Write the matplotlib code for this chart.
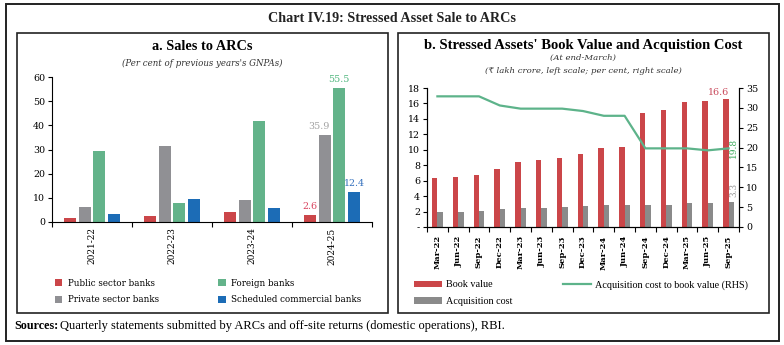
import numpy as np
import matplotlib
matplotlib.use("Agg")
import matplotlib.pyplot as plt
from matplotlib.patches import Rectangle

matplotlib.rcParams.update({
    "font.family": ["DejaVu Serif", "DejaVu Sans"],
    "axes.linewidth": 0.8,
    "xtick.major.width": 0.8,
    "ytick.major.width": 0.8,
})

# ── data ──────────────────────────────────────────────────────────────────────
years = ["2021-22", "2022-23", "2023-24", "2024-25"]
public_sector = [1.7, 2.5, 4.1, 2.6]
private_sector = [6.3, 31.4, 9.1, 35.9]
foreign_banks = [29.3, 7.7, 41.9, 55.5]
scb = [3.1, 9.6, 5.8, 12.4]

quarters = ["Mar-22", "Jun-22", "Sep-22", "Dec-22", "Mar-23", "Jun-23", "Sep-23",
            "Dec-23", "Mar-24", "Jun-24", "Sep-24", "Dec-24", "Mar-25", "Jun-25", "Sep-25"]
book_value = [6.3, 6.5, 6.7, 7.5, 8.4, 8.7, 9.0, 9.5, 10.2, 10.4, 14.7, 15.1, 16.2, 16.3, 16.6]
acq_cost = [2.0, 2.0, 2.1, 2.3, 2.4, 2.5, 2.6, 2.7, 2.8, 2.8, 2.8, 2.9, 3.1, 3.1, 3.3]
acq_ratio = [32.9, 32.9, 32.9, 30.6, 29.8, 29.8, 29.8, 29.2, 28.0, 28.0, 19.8, 19.8, 19.8, 19.3, 19.8]

W, H = 784, 345
fig = plt.figure(figsize=(W / 100, H / 100), dpi=100)


def px_axes(x0, y0, x1, y1):
    """axes from pixel box (top-left origin)"""
    return fig.add_axes([x0 / W, 1 - y1 / H, (x1 - x0) / W, (y1 - y0) / H])


def px_rect(x0, y0, x1, y1, lw=1.2):
    fig.patches.append(Rectangle((x0 / W, 1 - y1 / H), (x1 - x0) / W, (y1 - y0) / H,
                                 transform=fig.transFigure, fill=False,
                                 ec="#222222", lw=lw))


# frames
px_rect(6, 4, 779, 341, lw=1.4)
px_rect(17, 33, 388, 313)
px_rect(398, 33, 769, 313)

fig.text(392 / W, 1 - 19 / H, "Chart IV.19: Stressed Asset Sale to ARCs",
         family="Liberation Serif", fontweight="bold", fontsize=10.2,
         ha="center", va="center", color="#222222")
fig.text(14 / W, 1 - 326 / H, "Sources:", family="Liberation Serif",
         fontweight="bold", fontsize=8.7, ha="left", va="center")
fig.text(60 / W, 1 - 326 / H,
         "Quarterly statements submitted by ARCs and off-site returns (domestic operations), RBI.",
         family="Liberation Serif", fontsize=9, ha="left", va="center")

C_RED, C_GREY, C_GREEN, C_BLUE = "#CB4649", "#909094", "#63B38A", "#1C6CB6"

# ── panel (a) ─────────────────────────────────────────────────────────────────
ax = px_axes(52, 77.3, 372, 221.7)
fig.text(202 / W, 1 - 47 / H, "a. Sales to ARCs", family="Liberation Serif",
         fontweight="bold", fontsize=10.3, ha="center", va="center")
fig.text(202 / W, 1 - 63 / H, "(Per cent of previous years's GNPAs)",
         style="italic", fontsize=6.2, ha="center", va="center", color="#333333")

x = np.arange(len(years))
pitch, bw = 0.183, 0.15
series_a = [(public_sector, C_RED, "Public sector banks"),
            (private_sector, C_GREY, "Private sector banks"),
            (foreign_banks, C_GREEN, "Foreign banks"),
            (scb, C_BLUE, "Scheduled commercial banks")]
bars_a = []
for k, (vals, col, lbl) in enumerate(series_a):
    b = ax.bar(x + (k - 1.5) * pitch, vals, bw, color=col, label=lbl)
    bars_a.append(b)

lab_cols = ["#D9435E", "#A2A2A2", "#4DB57C", "#3470BD"]
for k, (vals, col, lbl) in enumerate(series_a):
    xi = x[-1] + (k - 1.5) * pitch
    dx = -4 if k == 1 else 0
    ax.annotate(f"{vals[-1]:.1f}", (xi, vals[-1]), xytext=(dx, 3),
                textcoords="offset points", ha="center", va="bottom",
                fontsize=6.8, color=lab_cols[k], annotation_clip=False)

ax.set_xlim(-0.5, len(years) - 0.5)
ax.set_ylim(0, 60)
ax.set_yticks(range(0, 61, 10))
ax.set_xticks(np.arange(-0.5, len(years), 1.0))
ax.set_xticklabels([])
ax.set_xticks(x, minor=True)
ax.set_xticklabels(years, minor=True, rotation=90, fontsize=6.5)
ax.tick_params(axis="x", which="minor", length=0, pad=4)
ax.tick_params(axis="x", which="major", direction="out", length=3.5)
ax.tick_params(axis="y", direction="out", length=3, labelsize=6.8, pad=2)
for s in ("top", "right"):
    ax.spines[s].set_visible(False)

handles = [b[0] for b in bars_a]
fig.legend(handles, [s[2] for s in series_a], ncol=2,
           loc="upper left", bbox_to_anchor=(55 / W, 1 - 279 / H),
           frameon=False, prop={"family": "DejaVu Serif", "size": 6.3},
           handlelength=0.85, handleheight=0.85, handletextpad=0.6,
           columnspacing=6.8, labelspacing=0.85, borderpad=0, borderaxespad=0)

# ── panel (b) ─────────────────────────────────────────────────────────────────
bx = px_axes(427, 88, 739, 227)
fig.text(583 / W, 1 - 46 / H, "b. Stressed Assets' Book Value and Acquistion Cost",
         family="Liberation Serif", fontweight="bold", fontsize=10.5,
         ha="center", va="center")
fig.text(583 / W, 1 - 58 / H, "(At end-March)", style="italic", fontsize=6.1,
         ha="center", va="center", color="#333333")
fig.text(583 / W, 1 - 71 / H, "(\u20b9 lakh crore, left scale; per cent, right scale)",
         style="italic", fontsize=6.1, ha="center", va="center", color="#333333")

q = np.arange(len(quarters))
bw2 = 0.26
bb1 = bx.bar(q - bw2 / 2, book_value, bw2, color=C_RED, label="Book value")
bb2 = bx.bar(q + bw2 / 2, acq_cost, bw2, color="#8A8A8A", label="Acquisition cost")
bx.set_xlim(-0.5, len(quarters) - 0.5)
bx.set_ylim(0, 18)
bx.set_yticks(range(0, 19, 2))
bx.set_yticklabels(["-"] + [str(v) for v in range(2, 19, 2)])
bx.set_xticks(np.arange(-0.5, len(quarters), 1.0))
bx.set_xticklabels([])
bx.set_xticks(q, minor=True)
bx.set_xticklabels(quarters, minor=True, rotation=90, fontsize=6, fontweight="bold")
bx.tick_params(axis="x", which="minor", length=0, pad=6)
bx.tick_params(axis="x", which="major", direction="out", length=3.5)
bx.tick_params(axis="y", direction="out", length=3, labelsize=6.8, pad=2)
bx.spines["top"].set_visible(False)

rx = bx.twinx()
ln, = rx.plot(q, acq_ratio, color="#5DB38A", lw=1.6,
              label="Acquisition cost to book value (RHS)")
rx.set_ylim(0, 35)
rx.set_yticks(range(0, 36, 5))
rx.tick_params(axis="y", direction="out", length=3, labelsize=6.8, pad=2)
rx.spines["top"].set_visible(False)

bx.annotate(f"{book_value[-1]:.1f}", (q[-1] - bw2 / 2, book_value[-1]),
            xytext=(-5, 1), textcoords="offset points", ha="center", va="bottom",
            fontsize=6.8, color="#C9485A", annotation_clip=False)
bx.annotate(f"{acq_cost[-1]:.1f}", (q[-1] + bw2 / 2, acq_cost[-1]),
            xytext=(1.5, 3), textcoords="offset points", ha="center", va="bottom",
            rotation=90, fontsize=6.5, color="#9A9A9A", annotation_clip=False)
rx.annotate(f"{acq_ratio[-1]:.1f}", (q[-1], acq_ratio[-1]),
            xytext=(3.5, 0), textcoords="offset points", ha="center", va="center",
            rotation=90, fontsize=6.5, color="#3DAA5C", annotation_clip=False)

fig.legend([bb1, bb2, ln], ["Book value", "Acquisition cost",
                             "Acquisition cost to book value (RHS)"], ncol=2,
           loc="upper left", bbox_to_anchor=(414 / W, 1 - 280 / H),
           frameon=False, prop={"family": "Liberation Serif", "size": 7.3},
           handlelength=2.8, handleheight=0.6, handletextpad=0.35,
           columnspacing=5.0, labelspacing=0.75, borderpad=0, borderaxespad=0)

fig.savefig("out.png", dpi=100)
